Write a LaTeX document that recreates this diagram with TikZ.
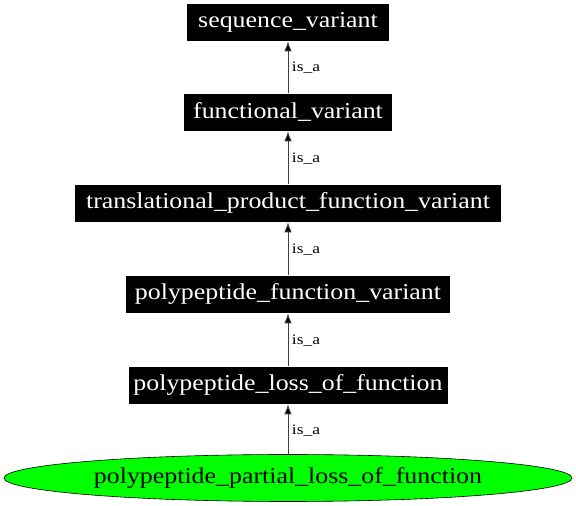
\documentclass[tikz,border=0pt]{standalone}
\usepackage{graphicx}
\usepackage{fontspec}
\setmainfont{Liberation Serif}
\usetikzlibrary{shapes.geometric,arrows.meta}
\newcommand{\wtxt}[1]{\scalebox{1.14}[1]{#1}}
\newcommand{\ltxt}[1]{\scalebox{1.2}[1]{#1}}
\begin{document}
\begin{tikzpicture}[x=1pt,y=1pt,
  termbox/.style={rectangle,fill=black,text=white,draw=white,line width=0.6pt,inner sep=0pt,minimum height=38pt,font=\fontsize{22.7}{26}\selectfont},
  leaf/.style={ellipse,fill=green,draw=black,line width=0.6pt,inner sep=0pt,minimum width=568pt,minimum height=47pt,font=\fontsize{22.7}{26}\selectfont},
  isa/.style={draw=black!75,line width=0.9pt,-{Latex[length=10pt,width=7.5pt,fill=black]}},
  lbl/.style={font=\fontsize{14.5}{16}\selectfont,right,inner sep=3.5pt,yshift=-1pt}]
\useasboundingbox (0,0) rectangle (576,506);
\node[termbox,minimum width=203pt] (sv) at (288,484) {\wtxt{sequence\_variant}};
\node[termbox,minimum width=209pt] (fv) at (288,394) {\wtxt{functional\_variant}};
\node[termbox,minimum width=427pt] (tpfv) at (288,303) {\wtxt{translational\_product\_function\_variant}};
\node[termbox,minimum width=325pt] (pfv) at (288,212) {\wtxt{polypeptide\_function\_variant}};
\node[termbox,minimum width=320pt] (plof) at (288,121) {\wtxt{polypeptide\_loss\_of\_function}};
\node[leaf] (pplof) at (288,28) {\wtxt{polypeptide\_partial\_loss\_of\_function}};
\draw[isa] (fv) -- node[lbl] {\ltxt{is\_a}} (sv);
\draw[isa] (tpfv) -- node[lbl] {\ltxt{is\_a}} (fv);
\draw[isa] (pfv) -- node[lbl] {\ltxt{is\_a}} (tpfv);
\draw[isa] (plof) -- node[lbl] {\ltxt{is\_a}} (pfv);
\draw[isa] (pplof) -- node[lbl] {\ltxt{is\_a}} (plof);
\end{tikzpicture}
\end{document}
